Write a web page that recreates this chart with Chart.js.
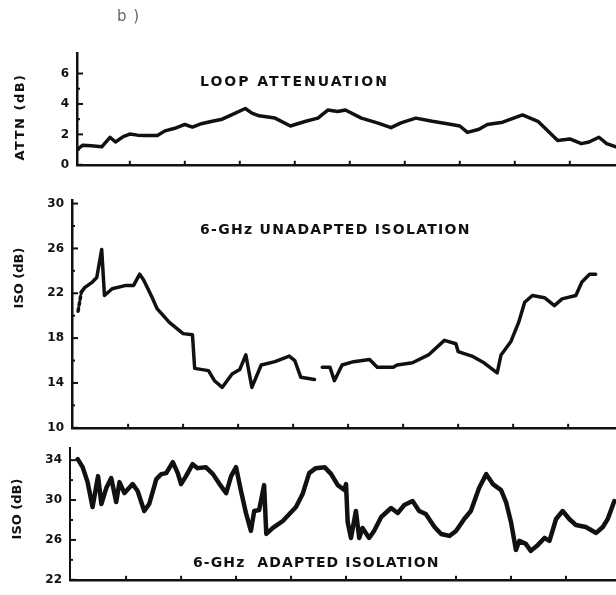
<!DOCTYPE html>
<html>
<head>
<meta charset="utf-8">
<script src="https://cdn.jsdelivr.net/npm/chart.js@4.4.1/dist/chart.umd.min.js"></script>
<style>
  html, body { margin: 0; padding: 0; background: #fff; }
  body { width: 616px; height: 595px; position: relative; overflow: hidden; }
  .panel { position: absolute; left: 0; width: 616px; }
</style>
</head>
<body>
<div class="panel" style="top:0;height:180px"><canvas id="attn"></canvas></div>
<div class="panel" style="top:185px;height:258px"><canvas id="unadapted"></canvas></div>
<div class="panel" style="top:433px;height:162px"><canvas id="adapted"></canvas></div>
<script>
const INK = '#111';

// time axis, in tick divisions
const timeTicks = [1, 2, 3, 4, 5, 6, 7, 8, 9];

// loop attenuation, dB
const attnTime = [0.04, 0.14, 0.3, 0.49, 0.64, 0.74, 0.88, 1.0, 1.14, 1.28, 1.5, 1.64, 1.82, 2.0, 2.14, 2.3, 2.5, 2.68, 2.85, 3.1, 3.22, 3.35, 3.64, 3.92, 4.2, 4.42, 4.6, 4.78, 4.92, 5.21, 5.5, 5.75, 5.93, 6.2, 6.5, 6.85, 7.0, 7.14, 7.35, 7.5, 7.78, 8.14, 8.42, 8.57, 8.78, 9.0, 9.21, 9.35, 9.53, 9.67, 9.84];
const attnValues = [1.0, 1.28, 1.25, 1.18, 1.81, 1.5, 1.85, 2.02, 1.95, 1.92, 1.92, 2.23, 2.4, 2.65, 2.48, 2.7, 2.86, 3.0, 3.28, 3.7, 3.4, 3.22, 3.07, 2.55, 2.86, 3.07, 3.6, 3.5, 3.6, 3.07, 2.76, 2.44, 2.76, 3.07, 2.86, 2.65, 2.55, 2.13, 2.34, 2.65, 2.8, 3.28, 2.86, 2.34, 1.6, 1.7, 1.39, 1.5, 1.81, 1.39, 1.18];
const attnLabels = [0, 2, 4, 6];
const attnMinor = [1, 3, 5];

// 6-GHz unadapted isolation, dB (null = gap in trace)
const unadaptedTime = [0.09, 0.15, 0.21, 0.35, 0.43, 0.52, 0.57, 0.71, 0.96, 1.1, 1.21, 1.28, 1.42, 1.53, 1.75, 2.0, 2.17, 2.21, 2.46, 2.57, 2.71, 2.89, 3.03, 3.14, 3.25, 3.42, 3.67, 3.93, 4.03, 4.14, 4.39, 4.46, 4.53, 4.67, 4.75, 4.89, 5.1, 5.39, 5.53, 5.82, 5.89, 6.17, 6.46, 6.75, 6.96, 7.0, 7.25, 7.47, 7.71, 7.78, 7.96, 8.1, 8.21, 8.35, 8.57, 8.75, 8.89, 9.14, 9.25, 9.39, 9.5];
const unadaptedValues = [20.4, 22.1, 22.5, 23.0, 23.4, 25.9, 21.8, 22.4, 22.7, 22.7, 23.7, 23.2, 21.8, 20.6, 19.4, 18.4, 18.3, 15.3, 15.1, 14.2, 13.6, 14.8, 15.2, 16.5, 13.6, 15.6, 15.9, 16.4, 16.0, 14.5, 14.3, null, 15.4, 15.4, 14.2, 15.6, 15.9, 16.1, 15.4, 15.4, 15.6, 15.8, 16.5, 17.8, 17.5, 16.8, 16.4, 15.8, 14.9, 16.5, 17.7, 19.4, 21.2, 21.8, 21.6, 20.9, 21.5, 21.8, 23.0, 23.7, 23.7];
const unadaptedLabels = [10, 14, 18, 22, 26, 30];
const unadaptedMinor = [12, 16, 20, 24, 28];

// 6-GHz adapted isolation, dB
const adaptedTime = [0.12, 0.21, 0.3, 0.39, 0.49, 0.55, 0.64, 0.73, 0.82, 0.88, 0.97, 1.12, 1.21, 1.33, 1.42, 1.55, 1.64, 1.73, 1.85, 1.94, 2.0, 2.09, 2.21, 2.3, 2.45, 2.58, 2.7, 2.82, 2.91, 3.0, 3.09, 3.18, 3.27, 3.33, 3.42, 3.51, 3.55, 3.67, 3.85, 4.09, 4.21, 4.33, 4.45, 4.61, 4.73, 4.85, 4.97, 5.0, 5.03, 5.09, 5.18, 5.24, 5.3, 5.42, 5.51, 5.64, 5.82, 5.94, 6.06, 6.21, 6.33, 6.45, 6.61, 6.73, 6.88, 7.0, 7.15, 7.27, 7.42, 7.55, 7.67, 7.82, 7.91, 8.0, 8.09, 8.15, 8.27, 8.36, 8.49, 8.61, 8.7, 8.82, 8.94, 9.06, 9.18, 9.36, 9.55, 9.67, 9.76, 9.88];
const adaptedValues = [34.1, 33.3, 31.8, 29.3, 32.4, 29.6, 31.2, 32.2, 29.8, 31.8, 30.7, 31.6, 30.9, 28.9, 29.6, 32.1, 32.6, 32.7, 33.8, 32.7, 31.6, 32.4, 33.6, 33.2, 33.3, 32.6, 31.6, 30.7, 32.4, 33.3, 30.9, 28.7, 26.9, 28.9, 29.0, 31.5, 26.6, 27.2, 27.9, 29.3, 30.6, 32.7, 33.2, 33.3, 32.6, 31.5, 31.0, 31.6, 27.8, 26.2, 28.9, 26.2, 27.2, 26.2, 26.9, 28.3, 29.2, 28.7, 29.5, 29.9, 28.9, 28.6, 27.3, 26.6, 26.4, 26.9, 28.1, 28.9, 31.2, 32.6, 31.6, 31.0, 29.8, 27.8, 25.0, 25.9, 25.6, 24.9, 25.5, 26.2, 25.9, 28.1, 28.9, 28.1, 27.5, 27.3, 26.7, 27.3, 28.1, 29.9];
const adaptedLabels = [22, 26, 30, 34];
const adaptedMinor = [24, 28, 32];

const toPoints = (xs, ys) => xs.map((x, i) => ({ x: x, y: ys[i] }));

// inward tick marks + text drawn on top of the chart
const decor = {
    id: 'decor',
    afterDraw(chart, args, opts) {
        const { ctx, chartArea, scales } = chart;
        ctx.save();
        ctx.strokeStyle = INK;
        ctx.lineWidth = 2;

        scales.y.ticks.forEach(t => {
            const major = opts.major.includes(t.value);
            const py = scales.y.getPixelForValue(t.value);
            ctx.beginPath();
            ctx.moveTo(chartArea.left, py);
            ctx.lineTo(chartArea.left + (major ? 6 : 3), py);
            ctx.stroke();
        });

        scales.x.ticks.forEach(t => {
            const px = scales.x.getPixelForValue(t.value);
            ctx.beginPath();
            ctx.moveTo(px, chartArea.bottom);
            ctx.lineTo(px, chartArea.bottom - 4);
            ctx.stroke();
        });

        ctx.textBaseline = 'middle';
        opts.texts.forEach(t => {
            ctx.save();
            ctx.font = t.font;
            ctx.fillStyle = t.color || INK;
            ctx.letterSpacing = t.spacing || '0px';
            ctx.translate(t.x, t.y);
            if (t.rotate) {
                ctx.rotate(-Math.PI / 2);
                ctx.textAlign = 'center';
            } else {
                ctx.textAlign = 'left';
            }
            ctx.fillText(t.text, 0, 0);
            ctx.restore();
        });
        ctx.restore();
    }
};

const makePanel = (id, p) => {
    const config = {
        type: 'line',
        data: {
            datasets: [{
                data: toPoints(p.time, p.values),
                borderColor: INK,
                borderWidth: p.lineWidth || 3.5,
                borderJoinStyle: 'round',
                borderCapStyle: 'round',
                pointRadius: 0,
                tension: 0,
                spanGaps: false,
                segment: p.segment
            }]
        },
        options: {
            responsive: true,
            maintainAspectRatio: false,
            animation: false,
            layout: { padding: { top: p.padTop, left: 0, right: 0, bottom: 0 } },
            plugins: {
                legend: { display: false },
                tooltip: { enabled: false },
                decor: { major: p.labels, texts: p.texts }
            },
            scales: {
                x: {
                    type: 'linear',
                    min: p.xMin,
                    max: p.xMax,
                    grid: { display: false, drawTicks: false },
                    border: { display: true, color: INK, width: 2.5 },
                    ticks: { display: false },
                    afterBuildTicks: s => { s.ticks = timeTicks.map(v => ({ value: v })); },
                    afterFit: s => { s.height = p.xHeight; }
                },
                y: {
                    min: p.yMin,
                    max: p.yMax,
                    grid: { display: false, drawTicks: false },
                    border: { display: true, color: INK, width: p.axisWidth || 2.5, dash: p.axisDash || [] },
                    ticks: {
                        color: INK,
                        padding: 8,
                        font: { family: 'DejaVu Sans', size: 12, weight: 'bold' },
                        callback: v => p.labels.includes(v) ? String(v) : ''
                    },
                    afterBuildTicks: s => {
                        s.ticks = p.labels.concat(p.minor).sort((a, b) => a - b).map(v => ({ value: v }));
                    },
                    afterFit: s => { s.width = p.left; }
                }
            }
        },
        plugins: [decor]
    };
    return new Chart(document.getElementById(id), config);
};

const titleFont = 'bold 14px "DejaVu Sans"';
const axisFont = 'bold 13px "DejaVu Sans"';

makePanel('attn', {
    time: attnTime, values: attnValues,
    labels: attnLabels, minor: attnMinor,
    yMin: 0, yMax: 7.35, xMin: 0.04, xMax: 9.84,
    left: 77, padTop: 53, xHeight: 13,
    texts: [
        { text: 'b )', x: 117, y: 17, font: '15px "DejaVu Sans"', color: '#666', spacing: '1px' },
        { text: 'LOOP ATTENUATION', x: 200, y: 82, font: titleFont, spacing: '2px' },
        { text: 'ATTN (dB)', x: 21, y: 117, font: axisFont, spacing: '1.5px', rotate: true }
    ]
});

makePanel('unadapted', {
    time: unadaptedTime, values: unadaptedValues,
    labels: unadaptedLabels, minor: unadaptedMinor,
    yMin: 10, yMax: 30.3, xMin: -0.02, xMax: 9.87,
    left: 72, padTop: 15, xHeight: 12,
    segment: { borderDash: ctx => ctx.p0DataIndex === 0 ? [3, 3] : undefined },
    texts: [
        { text: '6-GHz UNADAPTED ISOLATION', x: 200, y: 45, font: titleFont, spacing: '1.3px' },
        { text: 'ISO (dB)', x: 20, y: 93, font: axisFont, spacing: '0px', rotate: true }
    ]
});

makePanel('adapted', {
    time: adaptedTime, values: adaptedValues,
    labels: adaptedLabels, minor: adaptedMinor,
    yMin: 22, yMax: 35.2, xMin: -0.02, xMax: 9.91,
    left: 70, padTop: 7, xHeight: 12,
    lineWidth: 4.5,
    axisWidth: 2, axisDash: [2, 6],
    texts: [
        { text: '6-GHz  ADAPTED ISOLATION', x: 193, y: 130, font: titleFont, spacing: '1.1px' },
        { text: 'ISO (dB)', x: 18, y: 76, font: axisFont, spacing: '0px', rotate: true }
    ]
});
</script>
</body>
</html>
